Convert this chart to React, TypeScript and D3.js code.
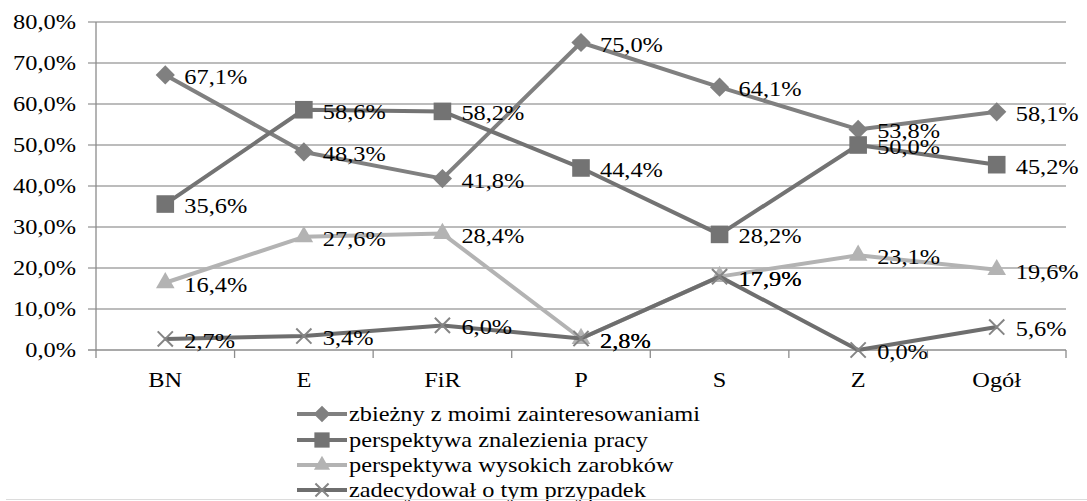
import React from "react";
import * as d3 from "d3";

const categories = ["BN", "E", "FiR", "P", "S", "Z", "Ogół"];
const seriesNames = [
  "zbieżny z moimi zainteresowaniami",
  "perspektywa znalezienia pracy",
  "perspektywa wysokich zarobków",
  "zadecydował o tym przypadek",
];
const s1 = [67.1, 48.3, 41.8, 75.0, 64.1, 53.8, 58.1];
const s2 = [35.6, 58.6, 58.2, 44.4, 28.2, 50.0, 45.2];
const s3 = [16.4, 27.6, 28.4, 2.8, 17.9, 23.1, 19.6];
const s4 = [2.7, 3.4, 6.0, 2.8, 17.9, 0.0, 5.6];
const yTicks = [0, 10, 20, 30, 40, 50, 60, 70, 80];

const W = 1087;
const H = 501;
const FONT = "Liberation Serif, DejaVu Serif, serif";
const FS = 21;
const SX = 1.16;

const fmt = (v: number) => v.toFixed(1).replace(".", ",") + "%";

const timesSymbol = {
  draw(ctx: any, size: number) {
    const r = Math.sqrt(size) / 2;
    ctx.moveTo(-r, -r);
    ctx.lineTo(r, r);
    ctx.moveTo(r, -r);
    ctx.lineTo(-r, r);
  },
};

const styles = [
  { line: "#808080", fill: "#808080", stroke: "none", sym: d3.symbolSquare, size: 185, rot: 45 },
  { line: "#737373", fill: "#737373", stroke: "none", sym: d3.symbolSquare, size: 310, rot: 0 },
  { line: "#b3b3b3", fill: "#b3b3b3", stroke: "none", sym: d3.symbolTriangle, size: 150, rot: 0 },
  { line: "#6e6e6e", fill: "none", stroke: "#858585", sym: timesSymbol, size: 230, rot: 0 },
];

function T({ x, y, anchor = "start", children }: any) {
  return (
    <text
      transform={`translate(${x},${y}) scale(${SX},1)`}
      textAnchor={anchor}
      style={{ fontFamily: FONT, fontSize: FS + "px" }}
      fill="#000"
    >
      {children}
    </text>
  );
}

export default function App() {
  const data = [s1, s2, s3, s4];
  const x = d3.scaleBand<string>().domain(categories).range([96, 1066]).padding(0);
  const y = d3.scaleLinear().domain([0, 80]).range([350, 22]);
  const cx = (c: string) => (x(c) as number) + x.bandwidth() / 2;
  const line = d3
    .line<number>()
    .x((_, i) => cx(categories[i]))
    .y((v) => y(v));

  const bandEdges = categories.map((c) => x(c) as number).concat([x.range()[1]]);

  const legendRows = [414, 440, 465, 490];

  return (
    <svg
      width={W}
      height={H}
      style={{ position: "absolute", left: 0, top: 0, background: "#fff" }}
    >
      <rect x={0} y={0} width={W} height={H} fill="#fff" />
      {yTicks.map((t) => (
        <line
          key={"g" + t}
          x1={88}
          x2={1066}
          y1={y(t)}
          y2={y(t)}
          stroke={t === 0 ? "#8c8c8c" : "#a6a6a6"}
          strokeWidth={1.3}
        />
      ))}
      <line x1={96} x2={96} y1={y(80)} y2={y(0)} stroke="#8c8c8c" strokeWidth={1.3} />
      {bandEdges.map((e, i) => (
        <line key={"xt" + i} x1={e} x2={e} y1={y(0)} y2={y(0) + 8} stroke="#8c8c8c" strokeWidth={1.3} />
      ))}
      {yTicks.map((t) => (
        <T key={"yl" + t} x={76} y={y(t) + 7} anchor="end">
          {fmt(t)}
        </T>
      ))}
      {categories.map((c) => (
        <T key={"xl" + c} x={cx(c)} y={387} anchor="middle">
          {c}
        </T>
      ))}
      {data.map((vals, si) => {
        const st = styles[si];
        const sym = d3.symbol().type(st.sym as any).size(st.size)();
        return (
          <g key={"s" + si}>
            <path d={line(vals) || ""} fill="none" stroke={st.line} strokeWidth={4} strokeLinejoin="round" />
            {vals.map((v, i) => (
              <path
                key={i}
                d={sym || ""}
                transform={`translate(${cx(categories[i])},${y(v)}) rotate(${st.rot})`}
                fill={st.fill}
                stroke={st.stroke}
                strokeWidth={2}
              />
            ))}
          </g>
        );
      })}
      {data.map((vals, si) =>
        vals.map((v, i) => (
          <T key={"dl" + si + "-" + i} x={cx(categories[i]) + 19} y={y(v) + 9}>
            {fmt(v)}
          </T>
        ))
      )}
      {seriesNames.map((n, si) => {
        const st = styles[si];
        const sym = d3.symbol().type(st.sym as any).size(st.size * 0.75)();
        const ly = legendRows[si];
        return (
          <g key={"lg" + si}>
            <line x1={297} x2={347} y1={ly} y2={ly} stroke={st.line} strokeWidth={4} />
            <path
              d={sym || ""}
              transform={`translate(322,${ly}) rotate(${st.rot})`}
              fill={st.fill}
              stroke={st.stroke}
              strokeWidth={2}
            />
            <T x={349} y={ly + 7}>
              {n}
            </T>
          </g>
        );
      })}
      <line x1={6} x2={W} y1={499.5} y2={499.5} stroke="#dcdcdc" strokeWidth={1} />
    </svg>
  );
}
